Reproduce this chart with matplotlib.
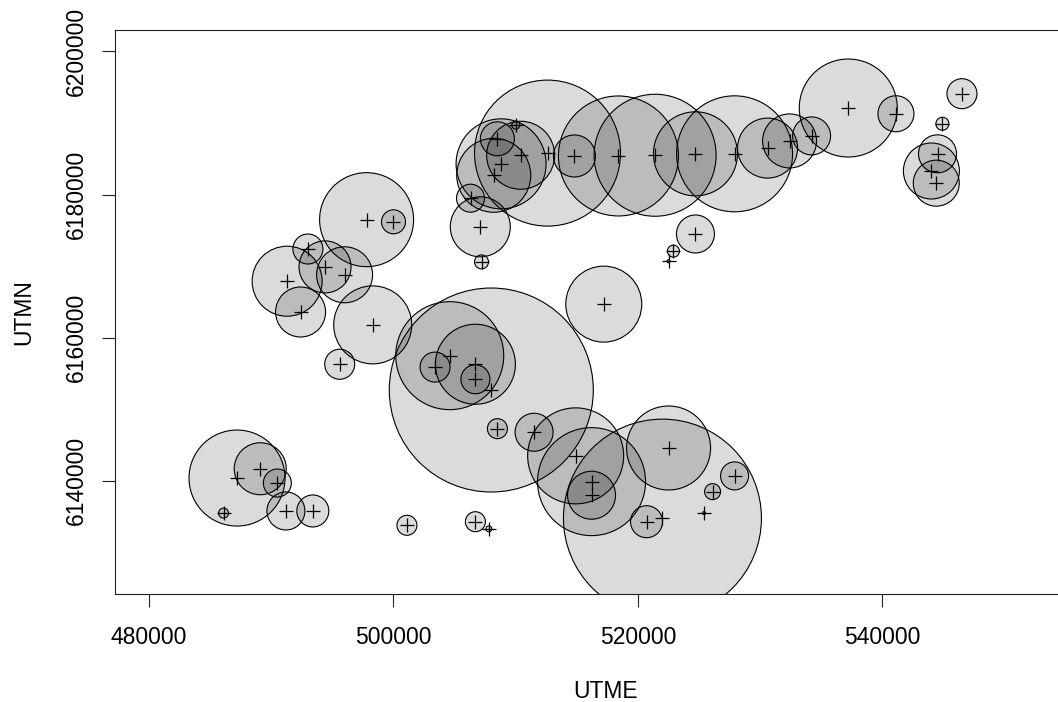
import numpy as np
import matplotlib
matplotlib.use("Agg")
import matplotlib.pyplot as plt

plt.rcParams['font.family'] = ['Liberation Sans', 'DejaVu Sans']

# Data: UTM easting / northing of each site and the bubble value (circle radius units)
utme = [487200, 489100, 490500, 491200, 493400, 486100, 501100, 506700, 507800,
        508500, 511500, 514900, 516200, 516200, 522500, 522000, 520700, 525400,
        526100, 527900, 497800, 500000, 493000, 494400, 496000, 491300, 492400,
        498300, 495600, 504600, 506700, 506700, 503400, 508000, 517200, 507100,
        507200, 506300, 508500, 510000, 510400, 508800, 508200, 512600, 514800,
        518400, 521400, 524700, 527900, 530600, 532400, 534200, 537200, 541100,
        546500, 544900, 544500, 544000, 544400, 524700, 522900, 522500]
utmn = [6140400, 6141700, 6139700, 6135800, 6135800, 6135500, 6133800, 6134300, 6133300,
        6147300, 6146800, 6143500, 6139900, 6138000, 6144600, 6134800, 6134300, 6135500,
        6138500, 6140700, 6176500, 6176200, 6172400, 6169900, 6168800, 6167900, 6163600,
        6161800, 6156300, 6157500, 6156300, 6154200, 6155900, 6152700, 6164700, 6175500,
        6170600, 6179500, 6187800, 6189700, 6185500, 6184300, 6182700, 6185800, 6185400,
        6185400, 6185500, 6185700, 6185700, 6186500, 6187500, 6188200, 6192100, 6191300,
        6194100, 6189900, 6185700, 6183300, 6181600, 6174500, 6172100, 6170700]
values = [48, 26, 14, 19, 16, 5, 10, 10, 3,
          10, 19, 48, 54, 24, 42, 99, 16, 1.5,
          8, 14, 47, 12, 15, 26, 28, 35, 25,
          39, 15, 54, 40, 14.5, 15, 102, 38, 30,
          7, 14, 17, 4, 34, 45, 37, 73, 21,
          60, 61, 42, 58, 30, 27, 19, 49, 18,
          15, 6.5, 19, 28, 23, 19, 6, 1.5]

x_ticks = [480000, 500000, 520000, 540000]
y_ticks = [6140000, 6160000, 6180000, 6200000]

DPI = 100
fig = plt.figure(figsize=(10.58, 7.02), dpi=DPI)
ax = fig.add_axes([0.10870, 0.15385, 0.92722, 0.80342])

vals = np.asarray(values, dtype=float)
max_r_px = 102.0
r_px = vals / vals.max() * max_r_px
diam_pt = 2 * r_px * 72.0 / DPI
sizes = diam_pt ** 2

ax.scatter(utme, utmn, s=sizes, marker='o',
           facecolors=(0, 0, 0, 0.14), edgecolors='black', linewidths=0.8, zorder=2)
ax.scatter(utme, utmn, s=90, marker='+', color='black', linewidths=0.9, zorder=3)

ax.set_xlim(477220, 557465)
ax.set_ylim(6124200, 6203000)

ax.set_xticks(x_ticks)
ax.set_xticklabels([str(v) for v in x_ticks])
ax.set_yticks(y_ticks)
ax.set_yticklabels([str(v) for v in y_ticks], rotation=90, va='center')

ax.tick_params(axis='both', direction='out', length=9.4, width=0.8, colors='#222222',
               labelcolor='black', labelsize=16.5)
ax.tick_params(axis='x', pad=14)
ax.tick_params(axis='y', pad=10)

for sp in ax.spines.values():
    sp.set_color('#222222')
    sp.set_linewidth(0.8)

ax.set_xlabel('UTME', fontsize=16.5)
ax.set_ylabel('UTMN', fontsize=16.5)
ax.xaxis.set_label_coords(0.5, -0.1525)
ax.yaxis.set_label_coords(-0.0816, 0.5)

fig.savefig('out.png', dpi=DPI)
